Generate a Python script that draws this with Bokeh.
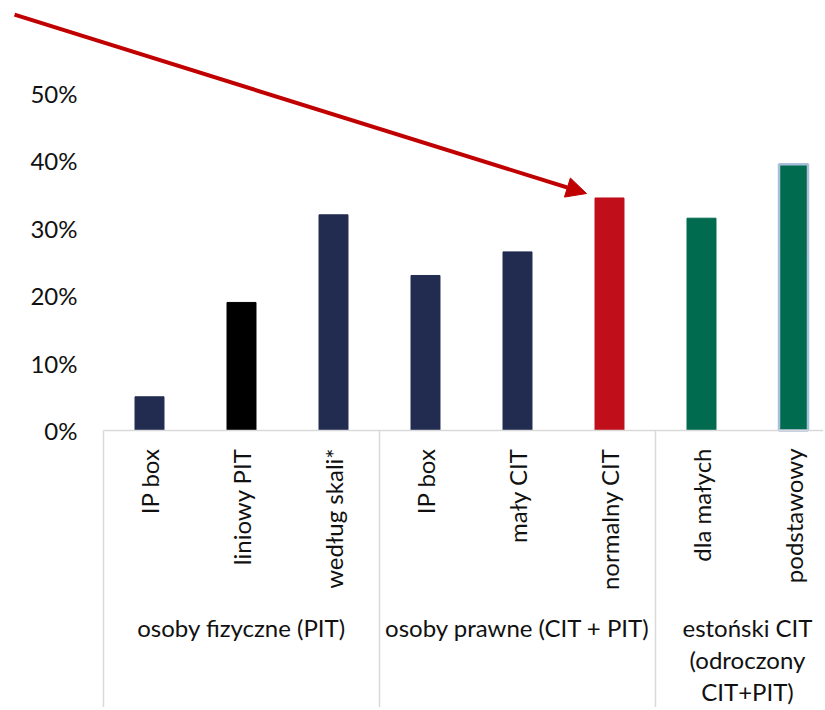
from bokeh.plotting import figure
from bokeh.models import ColumnDataSource, Range1d, Arrow, NormalHead
from bokeh.core.properties import value
from bokeh.embed import file_html
from bokeh.resources import INLINE
from math import pi

# ---- data ----
categories = ["IP box", "liniowy PIT", "według skali*", "IP box", "mały CIT",
              "normalny CIT", "dla małych", "podstawowy"]
values = [0.05, 0.19, 0.32, 0.23, 0.265, 0.345, 0.315, 0.395]
groups = ["osoby fizyczne (PIT)", "osoby prawne (CIT + PIT)", "estoński CIT\n(odroczony\nCIT+PIT)"]
group_sizes = [3, 3, 2]
y_ticks = [0.0, 0.1, 0.2, 0.3, 0.4, 0.5]
y_tick_labels = ["0%", "10%", "20%", "30%", "40%", "50%"]

# ---- style ----
bar_colors = ["#222C51", "#000000", "#222C51", "#222C51", "#222C51",
              "#C00F1A", "#006B4F", "#006B4F"]
bar_lines = ["#222C51", "#000000", "#222C51", "#222C51", "#222C51",
             "#C00F1A", "#006B4F", "#A9BFDC"]
bar_line_widths = [1, 1, 1, 1, 1, 1, 1, 2.5]
FONT = "Lato"
FS = "24px"
TXT = "#111111"
GRID = "#D9D9D9"
ARROW = "#C00000"

xs = list(range(len(categories)))
n = len(categories)

p = figure(width=823, height=707, output_backend="svg", toolbar_location=None,
           x_range=Range1d(-1.6196, 7.3261), y_range=Range1d(-0.411, 0.638),
           x_axis_location=None, y_axis_location=None,
           min_border_left=0, min_border_right=0, min_border_top=0, min_border_bottom=0)
p.outline_line_color = None
p.xgrid.visible = False
p.ygrid.visible = False
p.background_fill_color = "white"
p.border_fill_color = "white"

# y tick labels
p.text(x=[-0.7826] * len(y_ticks), y=y_ticks, text=y_tick_labels,
       text_align="right", text_baseline="middle",
       text_font=value(FONT), text_font_size=FS, text_color=TXT)

# bars
src = ColumnDataSource(dict(x=xs, top=values, fill=bar_colors, line=bar_lines,
                            lw=bar_line_widths))
p.vbar(x="x", top="top", bottom=0, width=0.315, source=src,
       fill_color="fill", line_color="line", line_width="lw")

# axis line and group separators
p.segment(x0=[-0.5], y0=[0], x1=[n + 0.5], y1=[0], line_color=GRID, line_width=1.5)
bounds = [-0.5]
for s in group_sizes:
    bounds.append(bounds[-1] + s)
ybot = p.y_range.start
p.segment(x0=bounds, y0=[0] * len(bounds), x1=bounds, y1=[ybot] * len(bounds),
          line_color=GRID, line_width=1.5)

# category labels (rotated)
p.text(x=xs, y=[-0.0267] * n, text=categories, angle=pi / 2,
       text_align="right", text_baseline="middle",
       text_font=value(FONT), text_font_size=FS, text_color=TXT)

# group labels
gcent = [(bounds[i] + bounds[i + 1]) / 2 for i in range(len(group_sizes))]
p.text(x=gcent, y=[-0.2705] * len(groups), text=groups,
       text_align="center", text_baseline="top", text_line_height=1.1,
       text_font=value(FONT), text_font_size=FS, text_color=TXT)

# arrow pointing at "normalny CIT"
tip_i = 5
p.add_layout(Arrow(end=NormalHead(size=20, fill_color=ARROW, line_color=ARROW),
                   x_start=-1.467, y_start=0.617,
                   x_end=tip_i - 0.25, y_end=values[tip_i] + 0.0066,
                   line_color=ARROW, line_width=4))

open("out.html", "w").write(file_html(p, INLINE))
